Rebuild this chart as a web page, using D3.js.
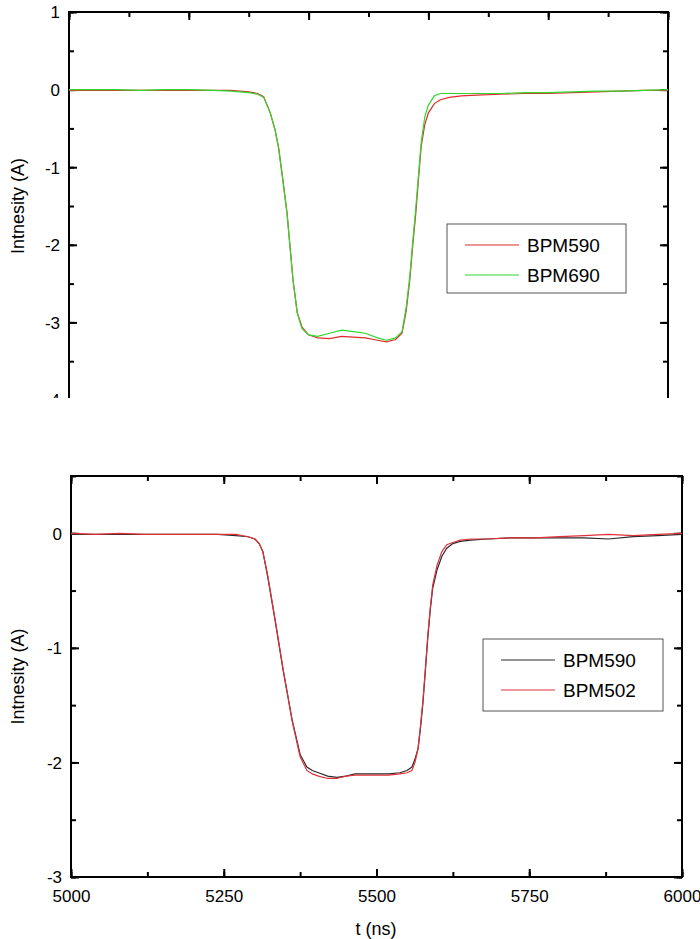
<!DOCTYPE html>
<html lang="en">
<head>
    <meta charset="UTF-8">
    <style>
        body { margin: 0; background: #fff; }
        .tick text { font-family: "Liberation Sans Narrow", "Liberation Sans", Arial, sans-serif; font-size: 17px; fill: #000; }
        .title { font-family: "Liberation Sans", Arial, sans-serif; font-size: 18px; fill: #000; }
        .legend text { font-family: "Liberation Sans", Arial, sans-serif; font-size: 19px; fill: #000; }
    </style>
    <script src="https://d3js.org/d3.v7.min.js"></script>
    <title>BPM intensity</title>
</head>
<body>
    <svg width="700" height="939"></svg>

    <script>

        // top panel data (ns, A)
        var timeTop = [5000, 5040, 5080, 5120, 5160, 5200, 5240, 5270, 5300, 5315, 5325, 5336, 5344, 5350, 5357, 5364, 5369, 5374, 5381, 5389,
                       5400, 5415, 5435, 5455, 5475, 5495, 5515, 5530, 5545, 5556, 5563, 5569, 5574, 5579, 5584, 5588, 5594, 5600, 5610, 5620,
                       5635, 5655, 5680, 5720, 5760, 5800, 5840, 5880, 5920, 5960, 6000];
        var bpm590Top = [-0.01, -0.01, -0.01, -0.01, -0.01, -0.01, -0.01, -0.01, -0.03, -0.05, -0.09, -0.30, -0.52, -0.75, -1.16, -1.59, -2.02, -2.45, -2.87, -3.06,
                         -3.16, -3.20, -3.21, -3.18, -3.19, -3.20, -3.23, -3.25, -3.22, -3.14, -2.85, -2.45, -2.00, -1.59, -1.10, -0.73, -0.45, -0.30, -0.18, -0.13,
                         -0.10, -0.08, -0.07, -0.06, -0.05, -0.05, -0.04, -0.03, -0.02, -0.01, -0.01];
        var bpm690Top = [0.00, 0.00, 0.00, -0.01, 0.00, 0.00, -0.01, -0.02, -0.04, -0.06, -0.10, -0.30, -0.52, -0.76, -1.17, -1.60, -2.03, -2.46, -2.88, -3.08,
                         -3.16, -3.18, -3.14, -3.10, -3.12, -3.14, -3.20, -3.23, -3.20, -3.12, -2.80, -2.40, -1.95, -1.52, -1.05, -0.68, -0.35, -0.20, -0.08, -0.05,
                         -0.05, -0.05, -0.05, -0.05, -0.04, -0.04, -0.03, -0.02, -0.02, -0.01, 0.00];

        // bottom panel data
        var timeBottom = [5000, 5040, 5080, 5120, 5160, 5200, 5240, 5270, 5290, 5301, 5308, 5314, 5322, 5334, 5347, 5362, 5375, 5386, 5395, 5405,
                          5420, 5435, 5450, 5465, 5480, 5500, 5520, 5538, 5550, 5558, 5563, 5568, 5572, 5576, 5580, 5584, 5588, 5592, 5599, 5607,
                          5615, 5625, 5637, 5655, 5681, 5720, 5760, 5800, 5840, 5880, 5920, 5960, 6000];
        var bpm590Bottom = [-0.01, -0.01, -0.01, -0.01, -0.01, -0.01, -0.01, -0.02, -0.03, -0.05, -0.09, -0.16, -0.38, -0.76, -1.19, -1.63, -1.93, -2.04, -2.07, -2.09,
                            -2.12, -2.13, -2.12, -2.10, -2.10, -2.10, -2.10, -2.09, -2.07, -2.04, -1.97, -1.88, -1.70, -1.48, -1.20, -0.91, -0.67, -0.48, -0.32, -0.20,
                            -0.13, -0.09, -0.07, -0.06, -0.05, -0.04, -0.04, -0.04, -0.04, -0.05, -0.03, -0.02, -0.01];
        var bpm502Bottom = [0.00, -0.01, 0.00, -0.01, -0.01, -0.01, -0.01, -0.01, -0.03, -0.05, -0.09, -0.16, -0.37, -0.75, -1.18, -1.64, -1.95, -2.07, -2.10, -2.12,
                            -2.14, -2.14, -2.12, -2.11, -2.11, -2.11, -2.11, -2.10, -2.09, -2.07, -2.00, -1.88, -1.68, -1.46, -1.18, -0.89, -0.65, -0.45, -0.28, -0.16,
                            -0.10, -0.08, -0.06, -0.05, -0.05, -0.04, -0.04, -0.03, -0.02, -0.01, -0.02, -0.01, 0.00];

        var svg = d3.select("svg");

        // clip for the top panel, the original picture is cut off there
        svg.append("clipPath").attr("id", "cutTop")
           .append("rect").attr("x", 0).attr("y", 0).attr("width", 700).attr("height", 398);

        // plain hyphen for negatives, like the original
        var fmt = function(d) { return String(d); };

        function drawPanel(opt) {
            var g = svg.append("g");
            if (opt.clip) g.attr("clip-path", "url(#" + opt.clip + ")");

            var x = d3.scaleLinear().domain([5000, 6000]).range([opt.left, opt.right]);
            var y = d3.scaleLinear().domain(opt.yDomain).range([opt.bottom, opt.top]);

            var yMajor = d3.range(opt.yDomain[0], opt.yDomain[1] + 0.001, 1);
            var yMinor = d3.range(opt.yDomain[0], opt.yDomain[1] + 0.001, 0.5);
            var xMajor = d3.range(5000, 6001, opt.xStep);
            var xMinor = d3.range(5000, 6001, opt.xStep / 2);

            // minor + major ticks, pointing inward
            function addAxis(axis, tf, major, minor, showLabels, flip) {
                var a = g.append("g").attr("transform", tf);
                a.call(axis.tickValues(minor).tickSize(-5).tickFormat(""));
                var b = g.append("g").attr("transform", tf);
                b.call(axis.tickValues(major).tickSize(-8).tickFormat(showLabels ? fmt : ""));
                [a, b].forEach(function(s) {
                    s.select(".domain").remove();
                    s.selectAll("line").attr("stroke", "#000").attr("stroke-width", 2);
                    if (flip) s.selectAll("line").attr("y2", function() { return -(+d3.select(this).attr("y2")); });
                });
                return b;
            }

            var yl = addAxis(d3.axisLeft(y), "translate(" + opt.left + ",0)", yMajor, yMinor, true, false);
            yl.selectAll("text").attr("x", -9).attr("dy", "0.35em");
            addAxis(d3.axisRight(y), "translate(" + opt.right + ",0)", yMajor, yMinor, false, false);
            addAxis(d3.axisBottom(x), "translate(0," + opt.top + ")", xMajor, xMinor, false, true);
            if (opt.xLabels) {
                var xb = addAxis(d3.axisBottom(x), "translate(0," + opt.bottom + ")", xMajor, xMinor, true, false);
                xb.selectAll("text").attr("y", 13).attr("dy", "0.71em");
            }

            // frame
            g.append("rect")
             .attr("x", opt.left).attr("y", opt.top)
             .attr("width", opt.right - opt.left).attr("height", opt.bottom - opt.top)
             .attr("fill", "none").attr("stroke", "#000").attr("stroke-width", 2);

            // curves
            var line = d3.line()
                         .x(function(d) { return x(d.t); })
                         .y(function(d) { return y(d.v); });

            opt.series.forEach(function(s) {
                var pts = opt.time.map(function(t, i) { return { t: t, v: s.values[i] }; });
                g.append("path")
                 .datum(pts)
                 .attr("d", line)
                 .attr("fill", "none")
                 .attr("stroke", s.color)
                 .attr("stroke-width", 1.2);
            });

            // y title
            g.append("text")
             .attr("class", "title")
             .attr("transform", "translate(24," + ((opt.top + opt.bottom) / 2) + ") rotate(-90)")
             .attr("text-anchor", "middle")
             .text("Intnesity (A)");

            // legend
            var lg = g.append("g").attr("class", "legend");
            lg.append("rect")
              .attr("x", opt.legend.x).attr("y", opt.legend.y)
              .attr("width", opt.legend.w).attr("height", opt.legend.h)
              .attr("fill", "#fff").attr("stroke", "#555").attr("stroke-width", 1);
            opt.series.forEach(function(s, i) {
                var ly = opt.legend.y + 21 + i * 30;
                lg.append("line")
                  .attr("x1", opt.legend.x + 18).attr("x2", opt.legend.x + 72)
                  .attr("y1", ly).attr("y2", ly)
                  .attr("stroke", s.color).attr("stroke-width", 1.2);
                lg.append("text")
                  .attr("x", opt.legend.x + 80).attr("y", ly)
                  .attr("dy", "0.35em")
                  .text(s.name);
            });
            return g;
        }

        drawPanel({
            left: 69, right: 668, top: 12, bottom: 400,
            yDomain: [-4, 1], xStep: 200, xLabels: false, clip: "cutTop",
            time: timeTop,
            series: [
                { name: "BPM590", values: bpm590Top, color: "#e02b2b" },
                { name: "BPM690", values: bpm690Top, color: "#2fd82f" }
            ],
            legend: { x: 447, y: 224, w: 179, h: 69 }
        });

        drawPanel({
            left: 71, right: 682, top: 476, bottom: 877,
            yDomain: [-3, 0.5], xStep: 250, xLabels: true,
            time: timeBottom,
            series: [
                { name: "BPM590", values: bpm590Bottom, color: "#2a2a2a" },
                { name: "BPM502", values: bpm502Bottom, color: "#e0303a" }
            ],
            legend: { x: 483, y: 639, w: 180, h: 72 }
        });

        svg.append("text")
           .attr("class", "title")
           .attr("x", 376).attr("y", 935)
           .attr("text-anchor", "middle")
           .text("t (ns)");

    </script>
</body>
</html>
